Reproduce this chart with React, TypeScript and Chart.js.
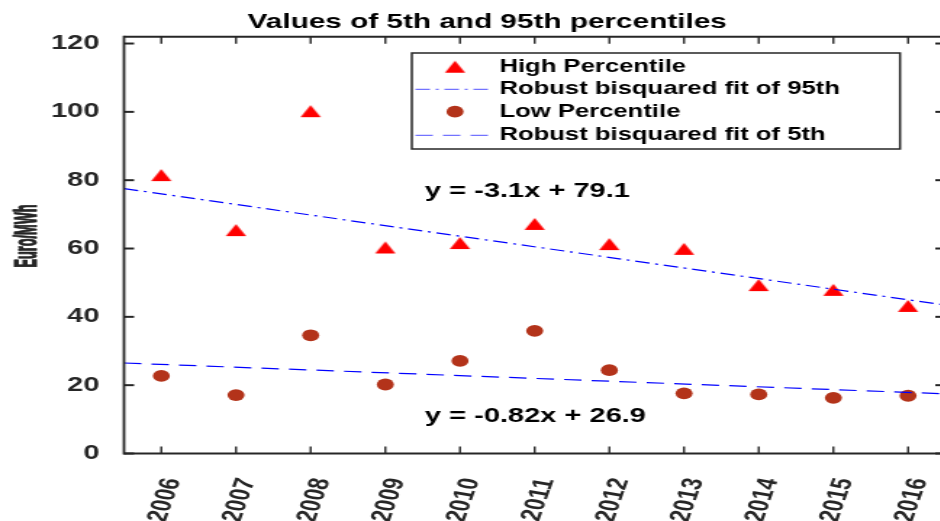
import React, { useEffect, useRef } from "react";
import { Chart, registerables } from "chart.js";

Chart.register(...registerables);

// Years on the horizontal axis
const YEARS = [2006, 2007, 2008, 2009, 2010, 2011, 2012, 2013, 2014, 2015, 2016];
// 95th percentile of the price in each year (Euro/MWh)
const HIGH_PERCENTILE = [81.5, 65.4, 100.2, 60.3, 61.6, 67.2, 61.3, 59.9, 49.3, 47.9, 43.2];
// 5th percentile of the price in each year (Euro/MWh)
const LOW_PERCENTILE = [22.7, 17.1, 34.6, 20.2, 27.1, 35.9, 24.4, 17.6, 17.3, 16.3, 16.9];
const Y_TICKS = [0, 20, 40, 60, 80, 100, 120];

// Robust bisquare fits, x counted in years since 2005
const FIT_HIGH = { slope: -3.1, intercept: 79.1 };
const FIT_LOW = { slope: -0.82, intercept: 26.9 };
const FIT_ORIGIN = 2005;

const X_RANGE = [2005.5, 2016.5];
const Y_RANGE = [0, 122];

const TITLE = "Values of 5th and 95th percentiles";
const Y_LABEL = "Euro/MWh";
const LEGEND_LABELS = [
  "High Percentile",
  "Robust bisquared fit of 95th",
  "Low Percentile",
  "Robust bisquared fit of 5th",
];

// Drawing surface: drawn narrow, then widened by CSS
const CANVAS_W = 660;
const CANVAS_H = 521;
const STRETCH = 1.45;

const FONT = '"Liberation Sans", Arial, Helvetica, sans-serif';
const AXIS_COLOR = "#262626";
const HIGH_COLOR = "#ff0000";
const LOW_COLOR = "#b3331a";
const FIT_COLOR = "#0000ff";
const DASH_DOT = [10, 4, 2, 4];
const DASHED = [12, 7];
const TICK_LEN = 7;

const equation = (f: { slope: number; intercept: number }) =>
  `y = ${f.slope}x + ${f.intercept}`;

const fitLine = (f: { slope: number; intercept: number }) =>
  X_RANGE.map((x) => ({ x, y: f.slope * (x - FIT_ORIGIN) + f.intercept }));

function makeTriangle(color: string) {
  const c = document.createElement("canvas");
  c.width = 16;
  c.height = 14;
  const g = c.getContext("2d")!;
  g.fillStyle = color;
  g.beginPath();
  g.moveTo(8, 1);
  g.lineTo(15, 13);
  g.lineTo(1, 13);
  g.closePath();
  g.fill();
  return c;
}

function seg(ctx: CanvasRenderingContext2D, x1: number, y1: number, x2: number, y2: number) {
  ctx.beginPath();
  ctx.moveTo(x1, y1);
  ctx.lineTo(x2, y2);
  ctx.stroke();
}

function makeDecor(triangle: HTMLCanvasElement) {
  return {
    id: "decor",
    afterDatasetsDraw(chart: any) {
      const { ctx, chartArea: a, scales } = chart;
      const xs = scales.x;
      const ys = scales.y;
      ctx.save();
      ctx.strokeStyle = AXIS_COLOR;
      ctx.lineCap = "butt";
      // axes box
      ctx.lineWidth = 2;
      seg(ctx, a.left, a.top, a.right, a.top);
      seg(ctx, a.left, a.bottom, a.right, a.bottom);
      ctx.lineWidth = 1.8;
      seg(ctx, a.left, a.top - 1, a.left, a.bottom + 1);
      seg(ctx, a.right, a.top - 1, a.right, a.bottom + 1);
      // inward tick marks
      ctx.lineWidth = 1.4;
      YEARS.forEach((v) => {
        const px = xs.getPixelForValue(v);
        seg(ctx, px, a.bottom, px, a.bottom - TICK_LEN);
        seg(ctx, px, a.top, px, a.top + TICK_LEN);
      });
      ctx.lineWidth = 2;
      Y_TICKS.forEach((v) => {
        const py = ys.getPixelForValue(v);
        seg(ctx, a.left, py, a.left + TICK_LEN, py);
        seg(ctx, a.right, py, a.right - TICK_LEN, py);
      });
      ctx.restore();
    },
    afterDraw(chart: any) {
      const { ctx } = chart;
      ctx.save();

      // title
      ctx.fillStyle = "#000";
      ctx.font = `bold 20.5px ${FONT}`;
      ctx.textAlign = "center";
      ctx.textBaseline = "alphabetic";
      ctx.fillText(TITLE, 336, 28.3);

      // y axis label (condensed)
      ctx.save();
      ctx.fillStyle = AXIS_COLOR;
      ctx.strokeStyle = AXIS_COLOR;
      ctx.lineWidth = 1;
      ctx.lineJoin = "round";
      ctx.translate(25, 236);
      ctx.rotate(-Math.PI / 2);
      ctx.scale(0.58, 1);
      ctx.font = `bold 22px ${FONT}`;
      ctx.textAlign = "center";
      ctx.fillText(Y_LABEL, 0, 0);
      ctx.strokeText(Y_LABEL, 0, 0);
      ctx.restore();

      // fit equations
      ctx.fillStyle = "#000";
      ctx.font = `bold 20px ${FONT}`;
      ctx.textAlign = "left";
      ctx.fillText(equation(FIT_HIGH), 293.1, 196.5);
      ctx.fillText(equation(FIT_LOW), 293.1, 421.7);

      // legend
      const box = { left: 284, top: 53, right: 620.7, bottom: 149 };
      const rows = [66.7, 89.3, 111.7, 135.3];
      const sampleL = 286.5;
      const sampleR = 337.9;
      const markerX = 313.8;
      const textX = 344.4;
      ctx.fillStyle = "#fff";
      ctx.fillRect(box.left, box.top, box.right - box.left, box.bottom - box.top);
      ctx.strokeStyle = AXIS_COLOR;
      ctx.lineWidth = 1.5;
      ctx.strokeRect(box.left, box.top, box.right - box.left, box.bottom - box.top);

      // markers and line samples
      ctx.drawImage(triangle, markerX - triangle.width / 2, rows[0] - triangle.height / 2);
      ctx.fillStyle = LOW_COLOR;
      ctx.beginPath();
      ctx.arc(markerX, rows[2], 5.9, 0, Math.PI * 2);
      ctx.fill();
      ctx.save();
      ctx.strokeStyle = FIT_COLOR;
      ctx.globalAlpha = 0.55;
      ctx.lineWidth = 1.2;
      ctx.setLineDash(DASH_DOT);
      seg(ctx, sampleL, rows[1], sampleR, rows[1]);
      ctx.setLineDash(DASHED);
      seg(ctx, sampleL, rows[3], sampleR, rows[3]);
      ctx.restore();

      ctx.fillStyle = "#000";
      ctx.font = `bold 17.7px ${FONT}`;
      ctx.textAlign = "left";
      ctx.textBaseline = "middle";
      LEGEND_LABELS.forEach((t, i) => ctx.fillText(t, textX, rows[i]));

      ctx.restore();
    },
  };
}

export default function App() {
  const ref = useRef<HTMLCanvasElement>(null);

  useEffect(() => {
    const canvas = ref.current;
    if (!canvas) return;
    const triangle = makeTriangle(HIGH_COLOR);
    const tickFont = { family: FONT, size: 20, weight: "bold" as const };

    const chart = new Chart(canvas, {
      type: "scatter",
      data: {
        datasets: [
          {
            label: LEGEND_LABELS[0],
            data: YEARS.map((x, i) => ({ x, y: HIGH_PERCENTILE[i] })),
            pointStyle: triangle as any,
            pointRadius: 7,
            order: 4,
          },
          {
            label: LEGEND_LABELS[1],
            data: fitLine(FIT_HIGH),
            showLine: true,
            borderColor: FIT_COLOR,
            borderWidth: 1.2,
            borderDash: DASH_DOT,
            pointRadius: 0,
            order: 3,
          },
          {
            label: LEGEND_LABELS[2],
            data: YEARS.map((x, i) => ({ x, y: LOW_PERCENTILE[i] })),
            pointStyle: "circle",
            pointRadius: 5.9,
            backgroundColor: LOW_COLOR,
            borderWidth: 0,
            order: 2,
          },
          {
            label: LEGEND_LABELS[3],
            data: fitLine(FIT_LOW),
            showLine: true,
            borderColor: FIT_COLOR,
            borderWidth: 1.2,
            borderDash: DASHED,
            pointRadius: 0,
            order: 1,
          },
        ],
      },
      options: {
        responsive: false,
        animation: false,
        devicePixelRatio: 1,
        events: [],
        layout: { padding: { top: 36.7, right: CANVAS_W - 654.9, left: 0, bottom: 0 } },
        plugins: {
          legend: { display: false },
          title: { display: false },
          tooltip: { enabled: false },
        },
        scales: {
          x: {
            type: "linear",
            min: X_RANGE[0],
            max: X_RANGE[1],
            grid: { display: false, drawTicks: false },
            border: { display: false },
            afterBuildTicks: (s: any) => {
              s.ticks = YEARS.map((value) => ({ value }));
            },
            afterFit: (s: any) => {
              s.height = CANVAS_H - 453.5;
              s.paddingLeft = 0;
              s.paddingRight = 0;
            },
            ticks: {
              autoSkip: false,
              minRotation: 76,
              maxRotation: 76,
              padding: 22.3,
              labelOffset: 7.8,
              font: tickFont,
              color: AXIS_COLOR,
              callback: (v: any) => String(v),
            },
          },
          y: {
            type: "linear",
            min: Y_RANGE[0],
            max: Y_RANGE[1],
            grid: { display: false, drawTicks: false },
            border: { display: false },
            afterBuildTicks: (s: any) => {
              s.ticks = Y_TICKS.map((value) => ({ value }));
            },
            afterFit: (s: any) => {
              s.width = 85.5;
            },
            ticks: {
              padding: 17,
              font: tickFont,
              color: AXIS_COLOR,
              callback: (v: any) => String(v),
            },
          },
        },
      },
      plugins: [makeDecor(triangle)],
    });

    return () => chart.destroy();
  }, []);

  return (
    <div
      style={{
        position: "fixed",
        left: 0,
        top: 0,
        width: 940,
        height: CANVAS_H,
        overflow: "hidden",
        background: "#fff",
      }}
    >
      <canvas
        ref={ref}
        width={CANVAS_W}
        height={CANVAS_H}
        style={{ width: CANVAS_W * STRETCH, height: CANVAS_H, display: "block" }}
      />
    </div>
  );
}
